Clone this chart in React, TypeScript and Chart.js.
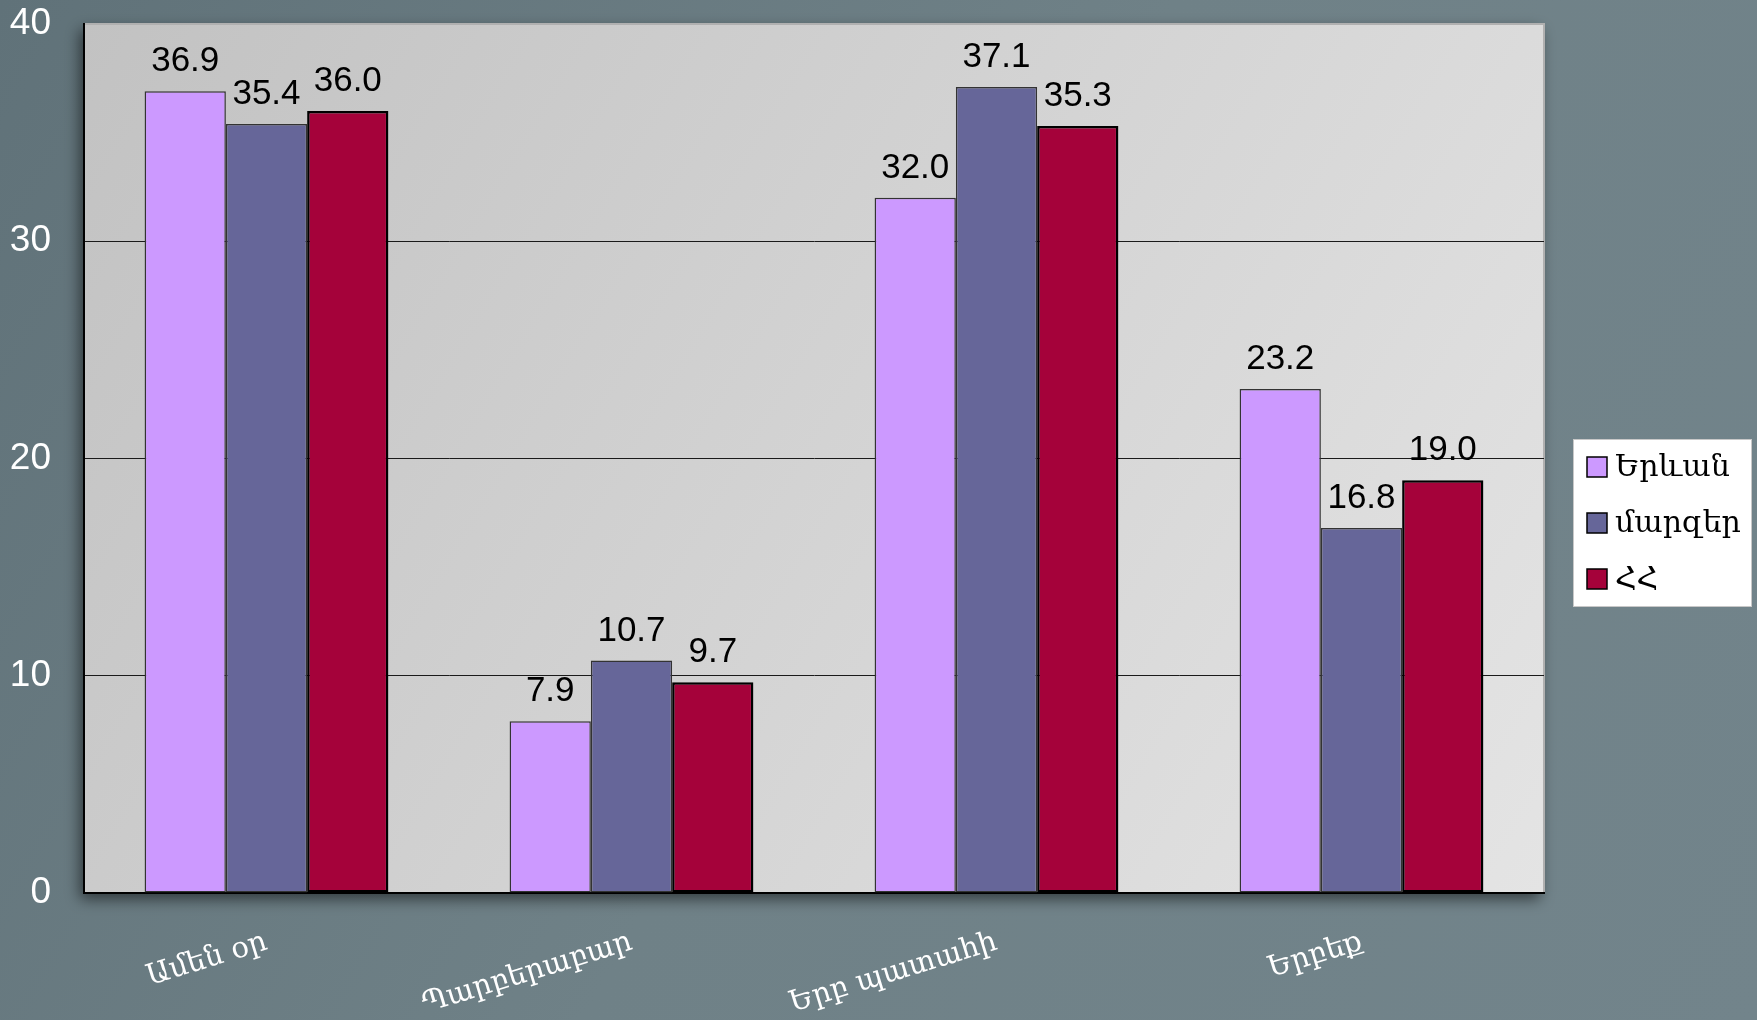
import React, { useEffect, useRef } from "react";
import { Chart, registerables } from "chart.js";

Chart.register(...registerables);

const categories = ["Ամեն օր", "Պարբերաբար", "Երբ պատահի", "Երբեք"];
const seriesNames = ["Երևան", "մարզեր", "ՀՀ"];
const yerevan = [36.9, 7.9, 32.0, 23.2];
const marzer = [35.4, 10.7, 37.1, 16.8];
const hh = [36.0, 9.7, 35.3, 19.0];
const yTicks = [0, 10, 20, 30, 40];

const W = 1757;
const H = 1020;

const bgPlugin = {
  id: "bgPlugin",
  beforeDraw(chart: any) {
    const { ctx, chartArea } = chart;
    ctx.save();
    const g = ctx.createLinearGradient(0, 0, W, H);
    g.addColorStop(0, "#607279");
    g.addColorStop(0.5, "#6f8187");
    g.addColorStop(1, "#72848b");
    ctx.fillStyle = g;
    ctx.fillRect(0, 0, W, H);
    ctx.shadowColor = "rgba(0,0,0,0.55)";
    ctx.shadowBlur = 14;
    ctx.shadowOffsetX = -4;
    ctx.shadowOffsetY = 6;
    const pg = ctx.createLinearGradient(
      chartArea.left,
      chartArea.top,
      chartArea.right,
      chartArea.bottom
    );
    pg.addColorStop(0, "#c2c2c2");
    pg.addColorStop(1, "#e4e4e4");
    ctx.fillStyle = pg;
    ctx.fillRect(
      chartArea.left,
      chartArea.top,
      chartArea.right - chartArea.left,
      chartArea.bottom - chartArea.top
    );
    ctx.shadowColor = "transparent";
    ctx.strokeStyle = "#b0b0b0";
    ctx.lineWidth = 2;
    ctx.strokeRect(
      chartArea.left,
      chartArea.top,
      chartArea.right - chartArea.left,
      chartArea.bottom - chartArea.top
    );
    ctx.restore();
  },
};

const labelsPlugin = {
  id: "labelsPlugin",
  afterDatasetsDraw(chart: any) {
    const { ctx } = chart;
    ctx.save();
    ctx.font = "35px 'Liberation Sans', Arial, sans-serif";
    ctx.fillStyle = "#000";
    ctx.textAlign = "center";
    ctx.textBaseline = "alphabetic";
    chart.data.datasets.forEach((ds: any, i: number) => {
      const meta = chart.getDatasetMeta(i);
      meta.data.forEach((el: any, j: number) => {
        ctx.fillText(Number(ds.data[j]).toFixed(1), el.x, el.y - 20);
      });
    });
    ctx.restore();
  },
};

const legendPlugin = {
  id: "customLegend",
  afterDraw(chart: any) {
    const { ctx } = chart;
    ctx.save();
    const bx = 1573, by = 439, bw = 178, bh = 167;
    ctx.fillStyle = "#ffffff";
    ctx.fillRect(bx, by, bw, bh);
    ctx.strokeStyle = "#c8c8c8";
    ctx.lineWidth = 1;
    ctx.strokeRect(bx + 0.5, by + 0.5, bw, bh);
    ctx.font = "30px 'DejaVu Serif', 'Liberation Serif', serif";
    ctx.textBaseline = "middle";
    ctx.textAlign = "left";
    chart.data.datasets.forEach((ds: any, i: number) => {
      const cy = 467 + i * 56;
      ctx.fillStyle = ds.backgroundColor;
      ctx.fillRect(1587, cy - 10, 20, 20);
      ctx.strokeStyle = "#000";
      ctx.lineWidth = 1.5;
      ctx.strokeRect(1587, cy - 10, 20, 20);
      ctx.fillStyle = "#000";
      ctx.fillText(ds.label, 1615, cy + 1);
    });
    ctx.restore();
  },
};

export default function App() {
  const ref = useRef<HTMLCanvasElement | null>(null);
  useEffect(() => {
    document.body.style.margin = "0";
    if (!ref.current) return;
    const chart = new Chart(ref.current, {
      type: "bar",
      data: {
        labels: categories,
        datasets: [
          {
            label: seriesNames[0],
            data: yerevan,
            backgroundColor: "#cc99ff",
            borderColor: "#333333",
            borderWidth: 1.5,
            borderSkipped: false,
          },
          {
            label: seriesNames[1],
            data: marzer,
            backgroundColor: "#666699",
            borderColor: "#333333",
            borderWidth: 1.5,
            borderSkipped: false,
          },
          {
            label: seriesNames[2],
            data: hh,
            backgroundColor: "#a5023a",
            borderColor: "#000000",
            borderWidth: 2.5,
            borderSkipped: false,
          },
        ],
      },
      options: {
        responsive: false,
        animation: false,
        layout: { padding: { top: 24, right: 213, left: 0, bottom: 0 } },
        plugins: {
          legend: { display: false },
          tooltip: { enabled: false },
        },
        datasets: {
          bar: { barPercentage: 1, categoryPercentage: 0.668 },
        },
        scales: {
          x: {
            grid: { display: false, drawTicks: false },
            border: { display: true, color: "#000", width: 2 },
            ticks: {
              color: "#ffffff",
              font: { family: "'DejaVu Serif', 'Liberation Serif', serif", size: 29 },
              minRotation: 17,
              maxRotation: 17,
              padding: 32,
              autoSkip: false,
            },
            afterFit(scale: any) {
              scale.height = H - 893;
              scale.paddingLeft = 0;
              scale.paddingRight = 0;
            },
          },
          y: {
            min: 0,
            max: 40,
            afterBuildTicks(scale: any) {
              scale.ticks = yTicks.map((v) => ({ value: v }));
            },
            grid: {
              drawTicks: false,
              color: (c: any) =>
                c.tick && c.tick.value > 0 && c.tick.value < 40 ? "#1a1a1a" : "rgba(0,0,0,0)",
              lineWidth: 1,
            },
            border: { display: true, color: "#000", width: 2 },
            ticks: {
              color: "#ffffff",
              font: { family: "'Liberation Sans', Arial, sans-serif", size: 37 },
              padding: 33,
            },
            afterFit(scale: any) {
              scale.width = 84;
              scale.paddingTop = 0;
              scale.paddingBottom = 0;
            },
          },
        },
      },
      plugins: [bgPlugin, labelsPlugin, legendPlugin],
    } as any);
    return () => chart.destroy();
  }, []);
  return (
    <div style={{ width: W, height: H, position: "absolute", left: 0, top: 0 }}>
      <canvas ref={ref} width={W} height={H} style={{ width: W, height: H, display: "block" }} />
    </div>
  );
}
